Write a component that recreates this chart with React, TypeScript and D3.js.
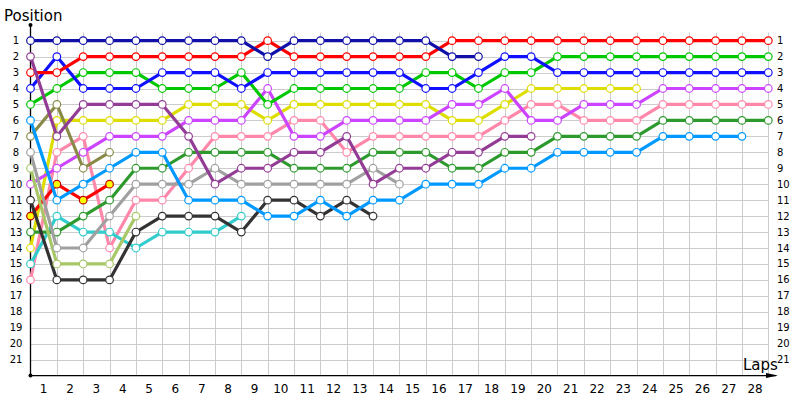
import React from "react";
import * as d3 from "d3";

const laps = d3.range(0, 29);
const positions = d3.range(1, 22);

const names = ["navy","purple","red","blue","green","lightblue","olive","gray","lightgreen","violet","black","redyellow","dkgreen","yellow","teal","pink"];
const colors = ["#1010a8","#933c96","#ff0000","#1010ff","#00c800","#0099ff","#8a8a48","#a0a0a0","#a8c868","#cc44ff","#333333","#ff0000","#2e9a2e","#dddd00","#33cccc","#ff88aa"];

const navy = [1,1,1,1,1,1,1,1,1,2,1,1,1,1,1,1,2,2];
const purple = [2,7,5,5,5,5,7,10,9,9,8,8,7,10,9,9,8,8,7,7];
const red = [3,3,2,2,2,2,2,2,2,1,2,2,2,2,2,2,1,1,1,1,1,1,1,1,1,1,1,1,1];
const blue = [4,2,4,4,4,3,3,3,4,3,3,3,3,3,3,4,4,3,2,2,3,3,3,3,3,3,3,3,3];
const green = [5,4,3,3,3,4,4,4,3,5,4,4,4,4,4,3,3,4,3,3,2,2,2,2,2,2,2,2,2];
const lightblue = [6,11,10,9,8,8,11,11,11,12,12,11,12,11,11,10,10,10,9,9,8,8,8,8,7,7,7,7];
const olive = [7,5,9,8];
const gray = [8,14,14,12,10,10,10,9,10,10,10,10,10,9,10];
const lightgreen = [9,15,15,15,12];
const violet = [10,9,8,7,7,7,6,6,6,4,7,7,6,6,6,6,5,5,4,6,6,5,5,5,4,4,4,4,4];
const black = [11,16,16,16,13,12,12,12,13,11,11,12,11,12];
const redyellow = [12,10,11,10];
const dkgreen = [13,13,12,11,9,9,8,8,8,8,9,9,9,8,8,8,9,9,8,8,7,7,7,7,6,6,6,6,6];
const yellow = [14,6,6,6,6,6,5,5,5,6,5,5,5,5,5,5,6,6,5,4,4,4,4,4];
const teal = [15,12,13,13,14,13,13,13,12];
const pink = [16,8,7,14,11,11,9,7,7,7,6,6,8,7,7,7,7,7,6,5,5,6,6,6,5,5,5,5,5];

const seriesData = [navy,purple,red,blue,green,lightblue,olive,gray,lightgreen,violet,black,redyellow,dkgreen,yellow,teal,pink];

const W = 800, H = 400;
const x = d3.scaleLinear().domain([0, 28]).range([30.5, 768.3]);
const y = d3.scaleLinear().domain([0, 22]).range([24.7, 375.6]);
const font = "'DejaVu Sans', Verdana, sans-serif";

export default function App() {
  const line = d3.line<number>().x((_, i) => x(i)).y(d => y(d));
  const order = d3.range(seriesData.length).reverse();
  const x0 = x(0), xEnd = x(28), yAxis = y(22);
  return (
    <svg width={W} height={H} style={{ position: "absolute", left: 0, top: 0, background: "#fff" }}>
      {/* grid */}
      <g stroke="#cccccc" strokeWidth={1}>
        {positions.map(p => (
          <line key={"h" + p} x1={x0} x2={xEnd} y1={Math.round(y(p)) + 0.5} y2={Math.round(y(p)) + 0.5} />
        ))}
        {laps.slice(1).map(l => (
          <line key={"v" + l} x1={Math.round(x(l)) + 0.5} x2={Math.round(x(l)) + 0.5} y1={y(0.5)} y2={yAxis} />
        ))}
      </g>
      {/* axes */}
      <line x1={x0} x2={x0} y1={25} y2={yAxis} stroke="#000" strokeWidth={1.3} />
      <line x1={x0} x2={776} y1={yAxis} y2={yAxis} stroke="#000" strokeWidth={1.3} />
      <circle cx={x0} cy={25} r={2} fill="#000" />
      <circle cx={x0} cy={yAxis} r={2} fill="#000" />
      <path d={`M766,${yAxis - 2.5} L778,${yAxis} L766,${yAxis + 2.5} Z`} fill="#000" />
      {/* y labels */}
      <g fontFamily={font} fontSize={10} fill="#000">
        {positions.map(p => (
          <text key={"yl" + p} x={16} y={y(p) + 3.5} textAnchor="middle">{p}</text>
        ))}
        {positions.map(p => (
          <text key={"yr" + p} x={777} y={y(p) + 3.5} textAnchor="start">{p}</text>
        ))}
      </g>
      <g fontFamily={font} fontSize={12} fill="#000">
        {laps.slice(1).map(l => (
          <text key={"xl" + l} x={x(l - 0.5)} y={393} textAnchor="middle">{l}</text>
        ))}
      </g>
      <text x={4} y={21} fontFamily={font} fontSize={15} fill="#000">Position</text>
      <text x={743} y={370} fontFamily={font} fontSize={15} fill="#000">Laps</text>
      {/* series */}
      {order.map(si => (
        <g key={names[si]}>
          <path d={line(seriesData[si]) || ""} fill="none" stroke={colors[si]} strokeWidth={3.2} strokeLinejoin="round" />
          {seriesData[si].map((p, i) => (
            <circle key={i} cx={x(i)} cy={y(p)} r={3.8}
              fill={names[si] === "redyellow" ? "#ffff00" : "#ffffff"}
              stroke={names[si] === "redyellow" ? "#c00000" : colors[si]} strokeWidth={1.2} />
          ))}
        </g>
      ))}
    </svg>
  );
}
